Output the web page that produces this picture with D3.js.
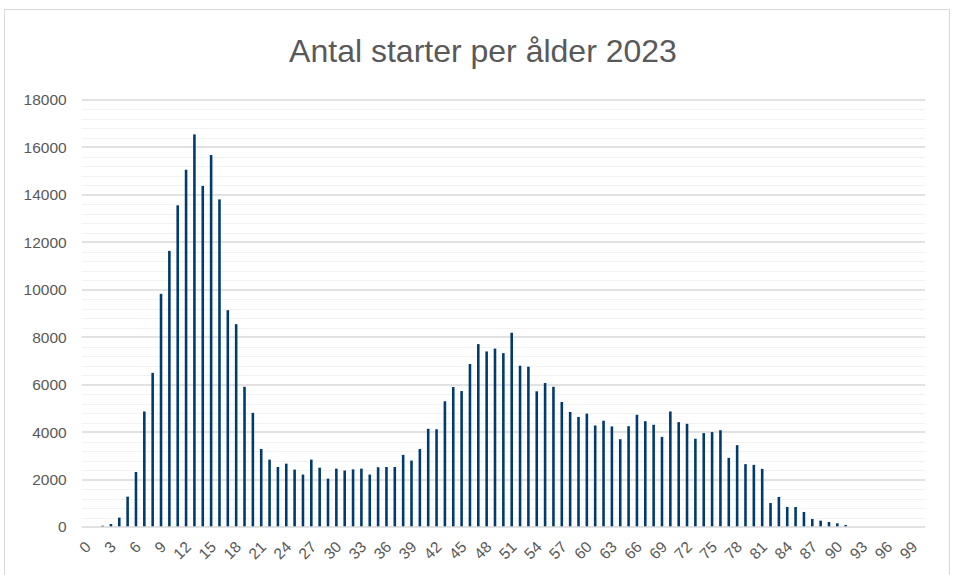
<!DOCTYPE html>
<html>
<head>
<meta charset="utf-8">
<script src="https://cdn.jsdelivr.net/npm/d3@7/dist/d3.min.js"></script>
<style>
  html, body { margin: 0; padding: 0; background: #ffffff; }
  svg { display: block; }
  text { font-family: "Liberation Sans", Arial, sans-serif; fill: #595959; }
</style>
</head>
<body>
<svg id="chart" width="955" height="575"></svg>
<script>
// ---- Data ----
const title = "Antal starter per ålder 2023";
const ages = d3.range(0, 101);
const starts = [
  0, 0, 55, 125, 395, 1280, 2320, 4870, 6500, 9830,
  11640, 13560, 15060, 16550, 14380, 15680, 13810, 9140, 8550, 5910,
  4810, 3290, 2840, 2530, 2670, 2420, 2210, 2840, 2500, 2040,
  2460, 2380, 2430, 2460, 2210, 2520, 2530, 2530, 3040, 2800,
  3290, 4140, 4120, 5300, 5900, 5730, 6870, 7710, 7400, 7520,
  7330, 8190, 6800, 6760, 5720, 6070, 5910, 5270, 4850, 4640,
  4780, 4280, 4480, 4240, 3700, 4250, 4730, 4460, 4310, 3800,
  4870, 4420, 4350, 3720, 3960, 4000, 4080, 2915, 3450, 2650,
  2620, 2450, 1013, 1266, 844, 844, 633, 338, 267, 211,
  155, 84, 0, 0, 0, 0, 0, 0, 0, 0,
  0
];
const yTicks = d3.range(0, 18001, 2000);
const yMinor = d3.range(0, 18001, 400);
const xTickLabels = d3.range(0, 100, 3);

// ---- Layout ----
const svg = d3.select("#chart");
const plot = { left: 81.7, right: 925, top: 100, bottom: 527 };

// chart border
svg.append("rect")
  .attr("x", 4.5).attr("y", 9.5)
  .attr("width", 945).attr("height", 580)
  .attr("fill", "#ffffff")
  .attr("stroke", "#d9d9d9").attr("stroke-width", 1);

const x = d3.scaleBand()
  .domain(ages)
  .range([plot.left, plot.right])
  .paddingInner(0.69).paddingOuter(0.345);

const y = d3.scaleLinear()
  .domain([0, 18000])
  .range([plot.bottom, plot.top]);

// minor gridlines
svg.append("g")
  .selectAll("line")
  .data(yMinor.filter(v => v % 2000 !== 0))
  .join("line")
  .attr("x1", plot.left).attr("x2", plot.right)
  .attr("y1", d => Math.round(y(d)) + 0.5).attr("y2", d => Math.round(y(d)) + 0.5)
  .attr("stroke", "#f2f2f2").attr("stroke-width", 1);

// major gridlines
svg.append("g")
  .selectAll("line")
  .data(yTicks.filter(v => v !== 0))
  .join("line")
  .attr("x1", plot.left).attr("x2", plot.right)
  .attr("y1", d => Math.round(y(d))).attr("y2", d => Math.round(y(d)))
  .attr("stroke", "#d9d9d9").attr("stroke-width", 1.5);

// bars
svg.append("g")
  .selectAll("rect")
  .data(ages.map((a, i) => ({ age: a, v: starts[i] })).filter(d => d.v > 0))
  .join("rect")
  .attr("x", d => x(d.age))
  .attr("width", x.bandwidth())
  .attr("y", d => y(d.v))
  .attr("height", d => y(0) - y(d.v))
  .attr("fill", "#003b6f");

// baseline
svg.append("line")
  .attr("x1", plot.left).attr("x2", plot.right)
  .attr("y1", y(0)).attr("y2", y(0))
  .attr("stroke", "#d9d9d9").attr("stroke-width", 1.5);

// y axis labels
const yAxis = d3.axisLeft(y).tickValues(yTicks).tickSize(0).tickPadding(15)
  .tickFormat(d3.format("d"));
svg.append("g")
  .attr("transform", `translate(${plot.left},0)`)
  .call(yAxis)
  .call(g => g.select(".domain").remove())
  .call(g => g.selectAll("text")
    .style("font-family", '"Liberation Sans", Arial, sans-serif')
    .style("font-size", "15.5px").attr("fill", "#595959"));

// x axis labels
const xAxis = d3.axisBottom(x).tickValues(xTickLabels).tickSize(0).tickPadding(0);
svg.append("g")
  .attr("transform", `translate(0,${plot.bottom})`)
  .call(xAxis)
  .call(g => g.select(".domain").remove())
  .call(g => g.selectAll("text")
    .style("font-family", '"Liberation Sans", Arial, sans-serif')
    .style("font-size", "15.5px").attr("fill", "#595959")
    .attr("text-anchor", "end")
    .attr("dy", null)
    .attr("y", 0)
    .attr("transform", "translate(6,21) rotate(-45)"));

// title
svg.append("text")
  .attr("x", 483).attr("y", 62)
  .attr("text-anchor", "middle")
  .style("font-size", "32px")
  .attr("fill", "#595959")
  .text(title);
</script>
</body>
</html>
